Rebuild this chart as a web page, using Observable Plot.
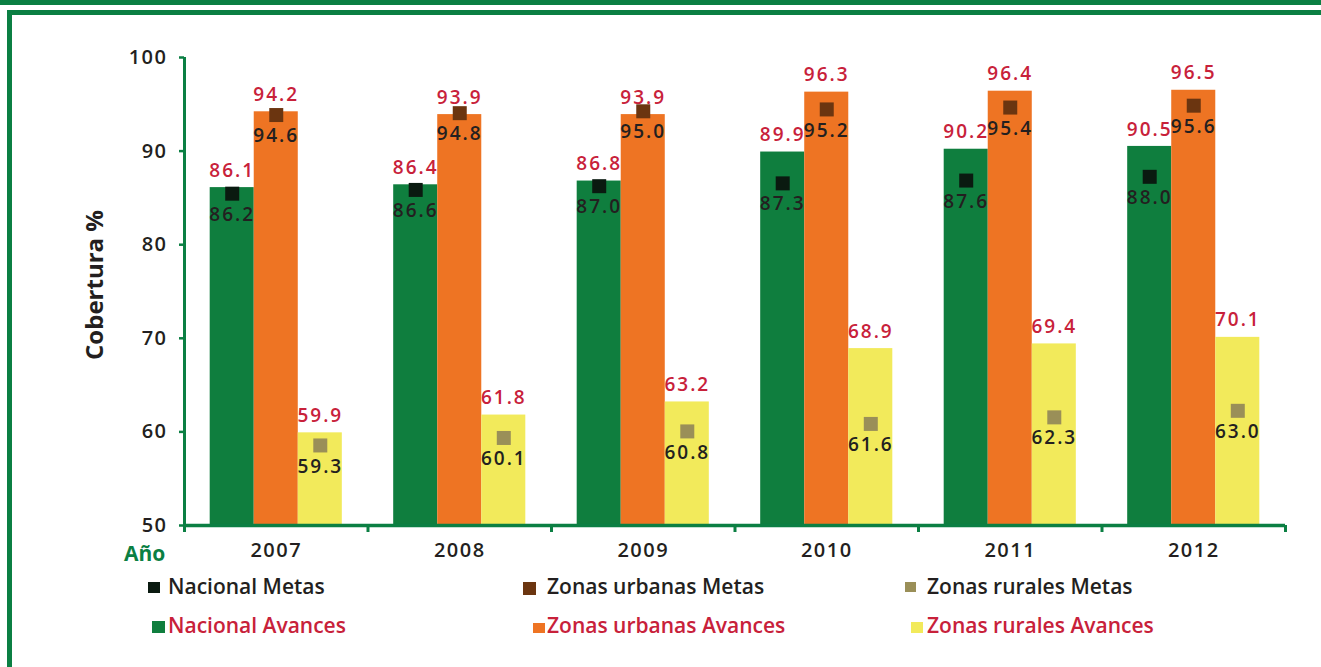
<!DOCTYPE html>
<html>
<head>
<meta charset="utf-8">
<script src="https://cdn.jsdelivr.net/npm/d3@7"></script>
<script src="https://cdn.jsdelivr.net/npm/@observablehq/plot@0.6"></script>
<style>
  body { margin: 0; background: #fff; font-family: "Open Sans", sans-serif; }
  #page { position: relative; width: 1321px; height: 667px; overflow: hidden; background: #fff; }
  #topbar { position: absolute; left: 0; top: 0; width: 1321px; height: 5px; background: #0b7f43; }
  #box { position: absolute; left: 7px; top: 10px; width: 1400px; height: 700px;
         border-left: 5px solid #0b7f43; border-top: 5px solid #0b7f43; }
  #chart { position: absolute; left: 0; top: 0; }
  #chart g[aria-label="text"] text { letter-spacing: 2px; }
  #chart g[aria-label="x-axis tick label"] text,
  #chart g[aria-label="y-axis tick label"] text { letter-spacing: 1.5px; }
  #ylabel { position: absolute; left: 93px; top: 285px; transform: translate(-50%, -50%) rotate(-90deg);
            font-size: 24px; font-weight: 700; color: #231f20; white-space: nowrap; }
  #xlabel { position: absolute; left: 124px; top: 543px; font-size: 21px; font-weight: 700; color: #0b7f43; line-height: 1; }
  .leg { position: absolute; font-size: 21px; font-weight: 600; line-height: 1; white-space: nowrap; }
  .sw { position: absolute; }
</style>
</head>
<body>
<div id="page">
  <div id="topbar"></div>
  <div id="box"></div>
  <div id="chart"></div>
  <div id="ylabel">Cobertura %</div>
  <div id="xlabel">Año</div>
  <div id="legend"></div>
</div>
<script>
// ---- Data ----
const years = [2007, 2008, 2009, 2010, 2011, 2012];
const nacionalAvances = [86.1, 86.4, 86.8, 89.9, 90.2, 90.5];
const nacionalMetas   = [86.2, 86.6, 87.0, 87.3, 87.6, 88.0];
const urbanasAvances  = [94.2, 93.9, 93.9, 96.3, 96.4, 96.5];
const urbanasMetas    = [94.6, 94.8, 95.0, 95.2, 95.4, 95.6];
const ruralesAvances  = [59.9, 61.8, 63.2, 68.9, 69.4, 70.1];
const ruralesMetas    = [59.3, 60.1, 60.8, 61.6, 62.3, 63.0];
const seriesNames = ["Nacional", "Zonas urbanas", "Zonas rurales"];
const yTicks = [50, 60, 70, 80, 90, 100];

// ---- Styles ----
const GREEN = "#0b7f43";
const RED = "#c8213a";
const DARK = "#231f20";
const avanceColors = ["#0f7e3e", "#ee7423", "#f2ea5b"];
const metaColors = ["#0a1a10", "#6b3510", "#9a8f58"];
const BAR_W = 0.24;       // fraction of a year band per bar
const GROUP_HALF = 0.36;  // half-width of the three-bar group

const avances = [nacionalAvances, urbanasAvances, ruralesAvances];
const metas = [nacionalMetas, urbanasMetas, ruralesMetas];
const rows = years.flatMap((yr, i) => seriesNames.map((s, k) => ({
  year: yr, k, serie: s, avance: avances[k][i], meta: metas[k][i]
})));

const x1 = d => d.year - GROUP_HALF + d.k * BAR_W;
const x2 = d => d.year - GROUP_HALF + (d.k + 1) * BAR_W;
const xc = d => d.year - GROUP_HALF + (d.k + 0.5) * BAR_W;
const xMin = years[0] - 0.5, xMax = years[years.length - 1] + 0.5;
const boundaries = [...years.map(y => y - 0.5), xMax];

const chart = Plot.plot({
  width: 1321, height: 600,
  marginTop: 57, marginBottom: 75, marginLeft: 184, marginRight: 36,
  x: { domain: [xMin, xMax] },
  y: { domain: [50, 100] },
  style: { fontFamily: "Open Sans", background: "transparent", color: DARK, overflow: "visible" },
  marks: [
    Plot.rectY(rows, { x1, x2, y1: 50, y2: "avance", fill: d => avanceColors[d.k] }),
    Plot.ruleY([50], { stroke: GREEN, strokeWidth: 3.5 }),
    Plot.ruleX([xMin], { stroke: GREEN, strokeWidth: 3 }),
    Plot.axisY({ ticks: yTicks, tickSize: 5, tickPadding: 12, stroke: GREEN, strokeWidth: 2.5,
                 fill: DARK, fontSize: 20, fontWeight: 600, label: null, tickFormat: d => String(d) }),
    Plot.axisX({ ticks: boundaries, tickSize: 7, tickFormat: () => "", stroke: GREEN, strokeWidth: 3, label: null }),
    Plot.axisX({ ticks: years, tickSize: 0, tickPadding: 17, tickFormat: d => String(d),
                 fill: DARK, fontSize: 20, fontWeight: 600, label: null }),
    Plot.dot(rows, { x: xc, y: "meta", symbol: "square", r: 7.9, fill: d => metaColors[d.k], stroke: null, dy: 7 }),
    Plot.text(rows, { x: xc, y: "avance", text: d => d.avance.toFixed(1), dy: -17, fill: RED, fontSize: 19, fontWeight: 600 }),
    Plot.text(rows, { x: xc, y: "meta", text: d => d.meta.toFixed(1), dy: 28, fill: DARK, fontSize: 19, fontWeight: 600 })
  ]
});
document.getElementById("chart").appendChild(chart);

// ---- Legend ----
const legend = document.getElementById("legend");
const legX = [168, 547, 927];
const metaSw = [[148, 582, 12, 11], [523, 582, 13, 13], [905, 582, 11, 10]];
const avSw = [[152, 621, 13, 12], [533, 623, 12, 10], [911, 622, 12, 11]];
seriesNames.forEach((s, k) => {
  const t1 = document.createElement("div");
  t1.className = "leg"; t1.textContent = s + " Metas";
  t1.style.left = legX[k] + "px"; t1.style.top = "575.5px"; t1.style.color = DARK;
  legend.appendChild(t1);
  const t2 = document.createElement("div");
  t2.className = "leg"; t2.textContent = s + " Avances";
  t2.style.left = legX[k] + "px"; t2.style.top = "614.5px"; t2.style.color = RED;
  legend.appendChild(t2);
  const [a, b, w, h] = metaSw[k];
  const s1 = document.createElement("div");
  s1.className = "sw"; Object.assign(s1.style, { left: a + "px", top: b + "px", width: w + "px", height: h + "px", background: metaColors[k] });
  legend.appendChild(s1);
  const [c, e, w2, h2] = avSw[k];
  const s2 = document.createElement("div");
  s2.className = "sw"; Object.assign(s2.style, { left: c + "px", top: e + "px", width: w2 + "px", height: h2 + "px", background: avanceColors[k] });
  legend.appendChild(s2);
});
</script>
</body>
</html>
